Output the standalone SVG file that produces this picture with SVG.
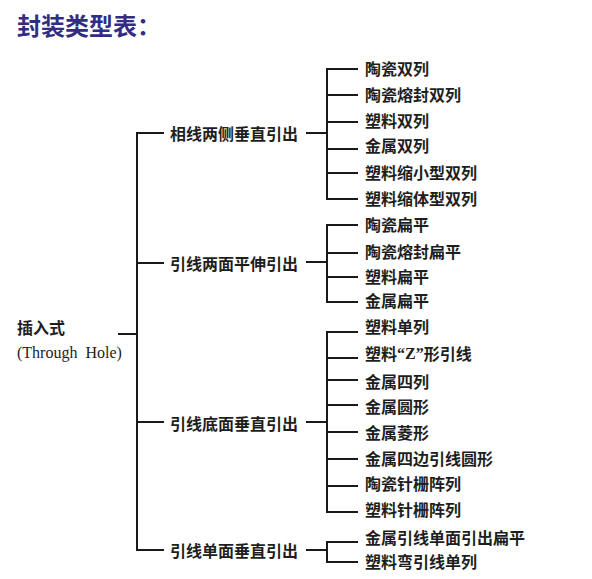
<svg xmlns="http://www.w3.org/2000/svg" width="592" height="579" viewBox="0 0 592 579">
<style>
.t{font-family:"Noto Sans CJK SC","Liberation Sans",sans-serif;font-size:16px;font-weight:bold;fill:#1e1e1e;dominant-baseline:central}
.title{font-family:"Noto Sans CJK SC","Liberation Sans",sans-serif;font-size:24px;font-weight:bold;fill:#332c82;dominant-baseline:central}
.en{font-family:"Liberation Serif","Noto Sans CJK SC",serif;font-size:16px;fill:#1e1e1e;dominant-baseline:central}
.q{font-family:"Liberation Serif",serif;font-weight:bold}
.ln{stroke:#1a1a1a;stroke-width:2;fill:none}
</style>
<rect width="592" height="579" fill="#ffffff"/>
<text class="title" x="17" y="24">封装类型表：</text>

<g id="connectors">
<path class="ln" d="M118 334H137"/>
<path class="ln" d="M164 133H137V550H164"/>
<path class="ln" d="M137 263H164M137 422H164"/>
<path class="ln" d="M306 133H327"/>
<path class="ln" d="M358 69H327V199H358"/>
<path class="ln" d="M327 95H358M327 122H358M327 149H358M327 173H358"/>
<path class="ln" d="M306 262H327"/>
<path class="ln" d="M358 225H327V302H358"/>
<path class="ln" d="M327 253H358M327 277H358"/>
<path class="ln" d="M306 422H327"/>
<path class="ln" d="M358 332H327V512H358"/>
<path class="ln" d="M327 358H358M327 380H358M327 405H358M327 432H358M327 459H358M327 486H358"/>
<path class="ln" d="M306 550H327"/>
<path class="ln" d="M358 542H327V562H358"/>
</g>

<g id="root">
<text class="t" x="17" y="327">插入式</text>
<text class="en" x="17" y="352" xml:space="preserve">(Through  Hole)</text>
</g>

<g id="g1"><text class="t" x="170" y="133">相线两侧垂直引出</text></g>
<g id="g2"><text class="t" x="170" y="263">引线两面平伸引出</text></g>
<g id="g3"><text class="t" x="170" y="423">引线底面垂直引出</text></g>
<g id="g4"><text class="t" x="170" y="550">引线单面垂直引出</text></g>

<g id="items1">
<text class="t" x="365" y="68">陶瓷双列</text>
<text class="t" x="365" y="94">陶瓷熔封双列</text>
<text class="t" x="365" y="120">塑料双列</text>
<text class="t" x="365" y="145">金属双列</text>
<text class="t" x="365" y="172">塑料缩小型双列</text>
<text class="t" x="365" y="198">塑料缩体型双列</text>
</g>
<g id="items2">
<text class="t" x="365" y="224">陶瓷扁平</text>
<text class="t" x="365" y="251">陶瓷熔封扁平</text>
<text class="t" x="365" y="276">塑料扁平</text>
<text class="t" x="365" y="300">金属扁平</text>
</g>
<g id="items3">
<text class="t" x="365" y="326">塑料单列</text>
<text class="t" x="365" y="353">塑料<tspan class="q">“Z”</tspan>形引线</text>
<text class="t" x="365" y="381">金属四列</text>
<text class="t" x="365" y="406">金属圆形</text>
<text class="t" x="365" y="432">金属菱形</text>
<text class="t" x="365" y="458">金属四边引线圆形</text>
<text class="t" x="365" y="483">陶瓷针栅阵列</text>
<text class="t" x="365" y="509">塑料针栅阵列</text>
</g>
<g id="items4">
<text class="t" x="365" y="537">金属引线单面引出扁平</text>
<text class="t" x="365" y="561">塑料弯引线单列</text>
</g>
</svg>
